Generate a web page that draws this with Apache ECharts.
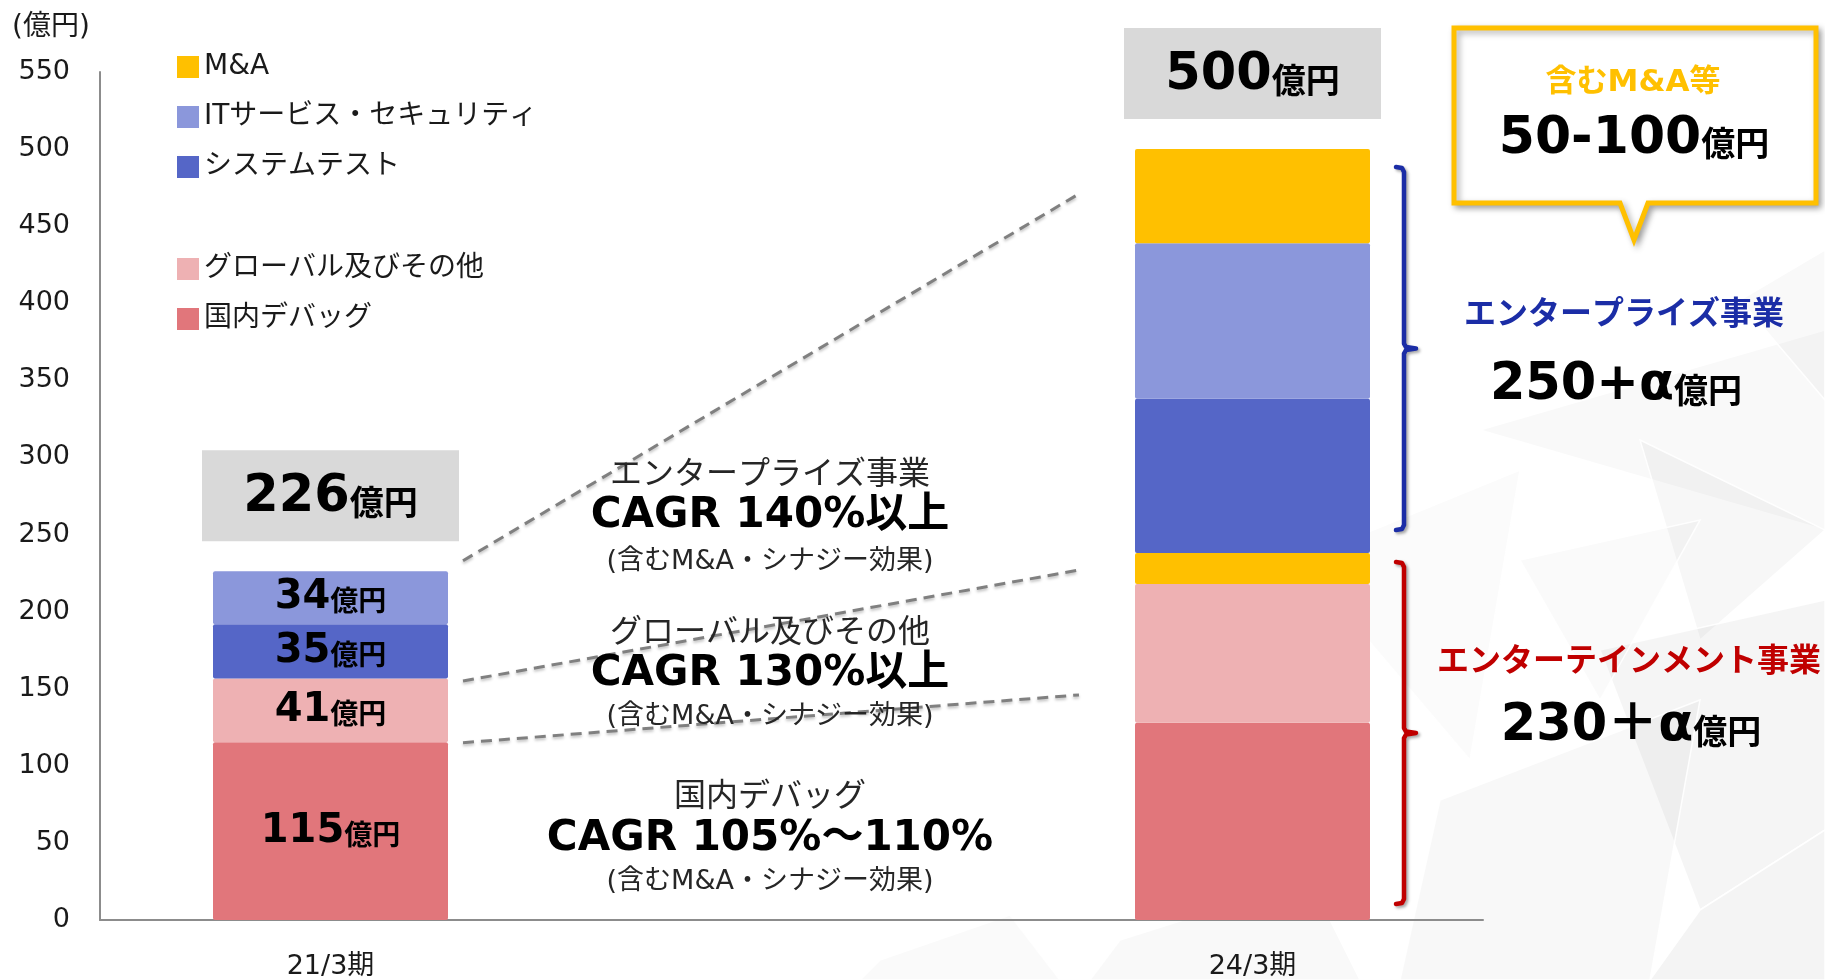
<!DOCTYPE html>
<html>
<head>
<meta charset="utf-8">
<script src="https://cdn.jsdelivr.net/npm/echarts@6/dist/echarts.min.js"></script>
<style>
  html, body { margin: 0; padding: 0; background: #ffffff; }
  #chart { width: 1825px; height: 980px; }
</style>
</head>
<body>
<div id="chart"></div>
<script>
// 売上高の内訳（億円）。中央の空カテゴリは CAGR 注記用のスペース
const periods = ['21/3期', '', '24/3期'];
const domesticDebug   = [115.3, null, 128];  // 国内デバッグ
const globalOther     = [41.3,  null, 90];   // グローバル及びその他
const maEntertainment = [null,  null, 20];   // M&A（エンターテインメント側）
const systemTest      = [35.3,  null, 100];  // システムテスト
const itSecurity      = [34.3,  null, 101];  // ITサービス・セキュリティ
const maEnterprise    = [null,  null, 61];   // M&A（エンタープライズ側）

const yMin = 0, yMax = 550, yStep = 50;

const cagrNotes = [
  ['エンタープライズ事業', 'CAGR 140%以上', '(含むM&A・シナジー効果)'],
  ['グローバル及びその他', 'CAGR 130%以上', '(含むM&A・シナジー効果)'],
  ['国内デバッグ', 'CAGR 105%～110%', '(含むM&A・シナジー効果)']
];
// 点線コネクタの始点・終点（億円の目盛り上の位置）
const connectorFrom = [233, 155, 115];
const connectorTo   = [471, 227, 146];

const segmentTargets = {
  enterprise: { title: 'エンタープライズ事業', amount: '250+α' },
  entertainment: { title: 'エンターテインメント事業', amount: '230＋α' },
  ma: { title: '含むM&A等', amount: '50-100' }
};

const F  = "'DejaVu Sans', 'Noto Sans CJK JP', sans-serif";
const FJ = "'Noto Sans CJK JP', sans-serif";

const stackOrder = [
  { name: '国内デバッグ',           data: domesticDebug,   color: '#E1767B' },
  { name: 'グローバル及びその他',   data: globalOther,     color: '#EEB1B3' },
  { name: 'M&A',                    data: maEntertainment, color: '#FFC000' },
  { name: 'システムテスト',         data: systemTest,      color: '#5566C7' },
  { name: 'ITサービス・セキュリティ', data: itSecurity,    color: '#8B97DB' },
  { name: 'M&A',                    data: maEnterprise,    color: '#FFC000' }
];

const BAR_W = 235;

const series = stackOrder.map(s => ({
  name: s.name,
  type: 'bar',
  stack: 'total',
  barWidth: BAR_W,
  itemStyle: { color: s.color, borderRadius: 2 },
  emphasis: { disabled: true },
  label: {
    show: false,
    position: 'inside',
    formatter: p => '{n|' + Math.round(p.value) + '}{u|億円}',
    rich: {
      n: { fontFamily: F, fontWeight: 'bold', fontSize: 40, color: '#000', lineHeight: 44 },
      u: { fontFamily: FJ, fontWeight: 'bold', fontSize: 28, color: '#000', lineHeight: 44, padding: [6, 0, 0, 0] }
    }
  },
  data: s.data.map((v, i) => ({ value: v, label: { show: i === 0 && v != null } }))
}));

const legendText = { fontFamily: F, fontSize: 28, color: '#1a1a1a', lineHeight: 28 };
const legendBase = {
  orient: 'vertical', left: 172, itemWidth: 22, itemHeight: 22, itemGap: 22,
  icon: 'rect', selectedMode: false, textStyle: legendText
};

const chart = echarts.init(document.getElementById('chart'), null, { renderer: 'canvas' });
chart.setOption({
  animation: false,
  backgroundColor: '#ffffff',
  grid: { left: 100, right: 342, top: 72, bottom: 58 },
  legend: [
    Object.assign({ data: ['M&A', 'ITサービス・セキュリティ', 'システムテスト'], top: 48 }, legendBase),
    Object.assign({ data: ['グローバル及びその他', '国内デバッグ'], top: 250 }, legendBase)
  ],
  xAxis: {
    type: 'category',
    data: periods,
    axisLine: { lineStyle: { color: '#8c8c8c', width: 2 } },
    axisTick: { show: false },
    axisLabel: { fontFamily: F, fontSize: 27, color: '#1a1a1a', margin: 33 }
  },
  yAxis: {
    type: 'value',
    min: yMin, max: yMax, interval: yStep,
    axisLine: { show: true, lineStyle: { color: '#8c8c8c', width: 2 } },
    axisTick: { show: false },
    splitLine: { show: false },
    axisLabel: { fontFamily: F, fontSize: 27, color: '#1a1a1a', margin: 30, padding: [0, 0, 8, 0] }
  },
  series: series
});

// ---- 注記類（軸の座標から配置） ----
const toPx = (i, v) => chart.convertToPixel({ xAxisIndex: 0, yAxisIndex: 0 }, [i, v]);
const sumAt = (arrs, i) => arrs.reduce((s, a) => s + (a[i] || 0), 0);
const totals = periods.map((_, i) => sumAt(stackOrder.map(s => s.data), i));

const g = [];

// 背景の淡いポリゴン模様
const bgPolys = [
  [[[1480, 430], [1825, 330], [1825, 530]], 0.022],
  [[[1640, 440], [1825, 530], [1700, 640]], 0.030],
  [[[1300, 560], [1520, 470], [1470, 760]], 0.016],
  [[[1600, 650], [1825, 600], [1825, 830], [1700, 910]], 0.038],
  [[[1440, 800], [1700, 700], [1650, 980], [1400, 980]], 0.026],
  [[[1700, 910], [1825, 830], [1825, 980], [1650, 980]], 0.045],
  [[[1120, 940], [1310, 880], [1360, 980], [1090, 980]], 0.022],
  [[[880, 960], [1010, 915], [1060, 980], [860, 980]], 0.018],
  [[[1740, 300], [1825, 250], [1825, 400]], 0.022],
  [[[1520, 560], [1700, 520], [1600, 700]], 0.018]
];
bgPolys.forEach(([pts, a]) => g.push({
  type: 'polygon', z: -5, silent: true,
  shape: { points: pts },
  style: { fill: 'rgba(0,0,0,' + a + ')', stroke: 'rgba(255,255,255,0.9)', lineWidth: 1.5 }
}));

// 合計ボックス
totals.forEach((t, i) => {
  if (!t) return;
  const p = toPx(i, t);
  const boxW = 257, boxH = 91, gap = 30;
  const top = p[1] - gap - boxH;
  g.push({ type: 'rect', z: 5, shape: { x: p[0] - boxW / 2, y: top, width: boxW, height: boxH }, style: { fill: '#D9D9D9' } });
  g.push({
    type: 'text', z: 6, x: p[0], y: top + boxH / 2 + 2,
    style: {
      text: '{n|' + Math.round(t) + '}{u|億円}', align: 'center', verticalAlign: 'middle',
      rich: {
        n: { fontFamily: F, fontWeight: 'bold', fontSize: 51, fill: '#000', lineHeight: 56 },
        u: { fontFamily: FJ, fontWeight: 'bold', fontSize: 34, fill: '#000', lineHeight: 56, padding: [8, 0, 0, 0] }
      }
    }
  });
});

// 点線コネクタ（21/3期の右端 → 24/3期の手前）
const x0 = toPx(0, 0)[0] + BAR_W / 2 + 15;
const x1 = toPx(2, 0)[0] - BAR_W / 2 - 56;
connectorFrom.forEach((v, k) => {
  g.push({
    type: 'line', z: 4,
    shape: { x1: x0, y1: toPx(0, v)[1], x2: x1, y2: toPx(2, connectorTo[k])[1] },
    style: { stroke: '#808080', lineWidth: 3, lineDash: [11, 7], shadowBlur: 3, shadowColor: 'rgba(0,0,0,0.25)', shadowOffsetY: 2 }
  });
});

// CAGR 注記
const noteX = 770;
const noteY = [[472, 516, 562], [630, 674, 717], [794, 839, 882]];
cagrNotes.forEach((lines, k) => {
  g.push({ type: 'text', z: 6, x: noteX, y: noteY[k][0], style: { text: lines[0], font: 'normal 32px ' + FJ, fill: '#262626', align: 'center', verticalAlign: 'middle' } });
  g.push({ type: 'text', z: 6, x: noteX, y: noteY[k][1], style: { text: lines[1], font: 'bold 42px ' + F, fill: '#000', align: 'center', verticalAlign: 'middle' } });
  g.push({ type: 'text', z: 6, x: noteX, y: noteY[k][2], style: { text: lines[2], font: 'normal 27px ' + F, fill: '#262626', align: 'center', verticalAlign: 'middle' } });
});

// 24/3期の事業区分ブラケット
const bx = toPx(2, 0)[0] + BAR_W / 2 + 34;
const entTop = sumAt([domesticDebug, globalOther, maEntertainment], 2);
function bracket(top, bottom, color) {
  const mid = (top + bottom) / 2;
  return {
    type: 'polyline', z: 5,
    shape: { points: [
      [bx - 8, top], [bx - 2, top + 1], [bx, top + 5],
      [bx, mid - 5], [bx + 2, mid - 1.5], [bx + 12, mid],
      [bx + 2, mid + 1.5], [bx, mid + 5],
      [bx, bottom - 5], [bx - 2, bottom - 1], [bx - 8, bottom]
    ] },
    style: { stroke: color, lineWidth: 4.5, fill: null, lineJoin: 'round', lineCap: 'round',
             shadowBlur: 3, shadowColor: 'rgba(0,0,0,0.35)', shadowOffsetX: 2, shadowOffsetY: 2 }
  };
}
g.push(bracket(toPx(2, totals[2])[1] + 18, toPx(2, entTop)[1] - 23, '#1B2DA6'));
g.push(bracket(toPx(2, entTop)[1] + 9, toPx(2, 0)[1] - 16, '#C00000'));

function amountText(x, y, amount, size, unitSize) {
  return {
    type: 'text', z: 6, x: x, y: y,
    style: {
      text: '{n|' + amount + '}{u|億円}', align: 'center', verticalAlign: 'middle',
      rich: {
        n: { fontFamily: F, fontWeight: 'bold', fontSize: size, fill: '#000', lineHeight: size + 4 },
        u: { fontFamily: FJ, fontWeight: 'bold', fontSize: unitSize, fill: '#000', lineHeight: size + 4, padding: [8, 0, 0, 0] }
      }
    }
  };
}

g.push({ type: 'text', z: 6, x: 1624, y: 312, style: { text: segmentTargets.enterprise.title, font: 'bold 32px ' + FJ, fill: '#1B2DA6', align: 'center', verticalAlign: 'middle' } });
g.push(amountText(1616, 386, segmentTargets.enterprise.amount, 51, 34));
g.push({ type: 'text', z: 6, x: 1629, y: 659, style: { text: segmentTargets.entertainment.title, font: 'bold 32px ' + FJ, fill: '#C00000', align: 'center', verticalAlign: 'middle' } });
g.push(amountText(1631, 727, segmentTargets.entertainment.amount, 51, 34));

// M&A 吹き出し
g.push({
  type: 'polygon', z: 5,
  shape: { points: [[1454, 28], [1816, 28], [1816, 203], [1648, 203], [1634, 240], [1620, 203], [1454, 203]] },
  style: { fill: '#ffffff', stroke: '#FFC000', lineWidth: 5, lineJoin: 'miter',
           shadowBlur: 6, shadowColor: 'rgba(0,0,0,0.3)', shadowOffsetX: 3, shadowOffsetY: 3 }
});
g.push({ type: 'text', z: 6, x: 1633, y: 83, style: { text: segmentTargets.ma.title, font: 'bold 31px ' + F, fill: '#FFC000', align: 'center', verticalAlign: 'middle' } });
g.push(amountText(1634, 139, segmentTargets.ma.amount, 52, 34));

// 単位
g.push({ type: 'text', z: 6, x: 51, y: 28, style: { text: '(億円)', font: 'normal 28px ' + F, fill: '#1a1a1a', align: 'center', verticalAlign: 'middle' } });

chart.setOption({ graphic: { elements: g } });
</script>
</body>
</html>
